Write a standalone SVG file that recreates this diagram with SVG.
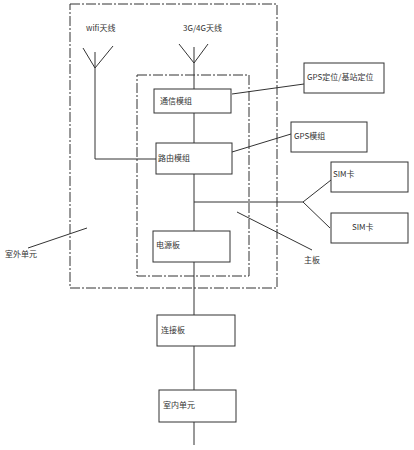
<svg xmlns="http://www.w3.org/2000/svg" width="414" height="450" viewBox="0 0 414 450">
<style>
.bx{fill:#fff;stroke:#333;stroke-width:1}
.dd{fill:none;stroke:#333;stroke-width:1;stroke-dasharray:10 2 2 2}
.ln{fill:none;stroke:#333;stroke-width:1}
text{font-family:"Noto Sans CJK SC","Liberation Sans",sans-serif;font-size:8px;fill:#333}
</style>
<rect width="414" height="450" fill="#fff"/>
<g id="outdoor-unit">
<rect class="dd" x="70" y="4" width="207" height="284"/>
<text x="5" y="257">室外单元</text>
</g>
<g id="mainboard">
<rect class="dd" x="137" y="75" width="112" height="201"/>
<text x="304" y="263">主板</text>
</g>
<g id="connectors">
<path class="ln" d="M194 47V315M194 346V390M194 422V445"/>
<path class="ln" d="M179 44L194 63L208 44"/>
<path class="ln" d="M83 48L95 68L113 46M95 52V159H156"/>
<path class="ln" d="M232 94L304 84"/>
<path class="ln" d="M232 152L291 134"/>
<path class="ln" d="M194 202H303L331 180M303 202L330 228"/>
<path class="ln" d="M237 212L312 250"/>
<path class="ln" d="M87 228L28 248"/>
</g>
<g id="wifi-antenna"><text x="86" y="31">wifi天线</text></g>
<g id="cell-antenna"><text x="183" y="31">3G/4G天线</text></g>
<g id="comm-module"><rect class="bx" x="154" y="89" width="77" height="24"/><text x="160" y="104">通信模组</text></g>
<g id="router-module"><rect class="bx" x="156" y="143" width="76" height="31"/><text x="158" y="161">路由模组</text></g>
<g id="power-board"><rect class="bx" x="153" y="231" width="77" height="31"/><text x="156" y="248">电源板</text></g>
<g id="gps-locate"><rect class="bx" x="304" y="63" width="80" height="30"/><text x="307" y="80">GPS定位/基站定位</text></g>
<g id="gps-module"><rect class="bx" x="291" y="122" width="76" height="30"/><text x="294" y="139">GPS模组</text></g>
<g id="sim1"><rect class="bx" x="331" y="162" width="77" height="30"/><text x="333" y="177">SIM卡</text></g>
<g id="sim2"><rect class="bx" x="331" y="213" width="77" height="30"/><text x="352" y="230">SIM卡</text></g>
<g id="connect-board"><rect class="bx" x="157" y="315" width="78" height="31"/><text x="161" y="333">连接板</text></g>
<g id="indoor-unit"><rect class="bx" x="159" y="390" width="77" height="32"/><text x="163" y="408">室内单元</text></g>
</svg>
